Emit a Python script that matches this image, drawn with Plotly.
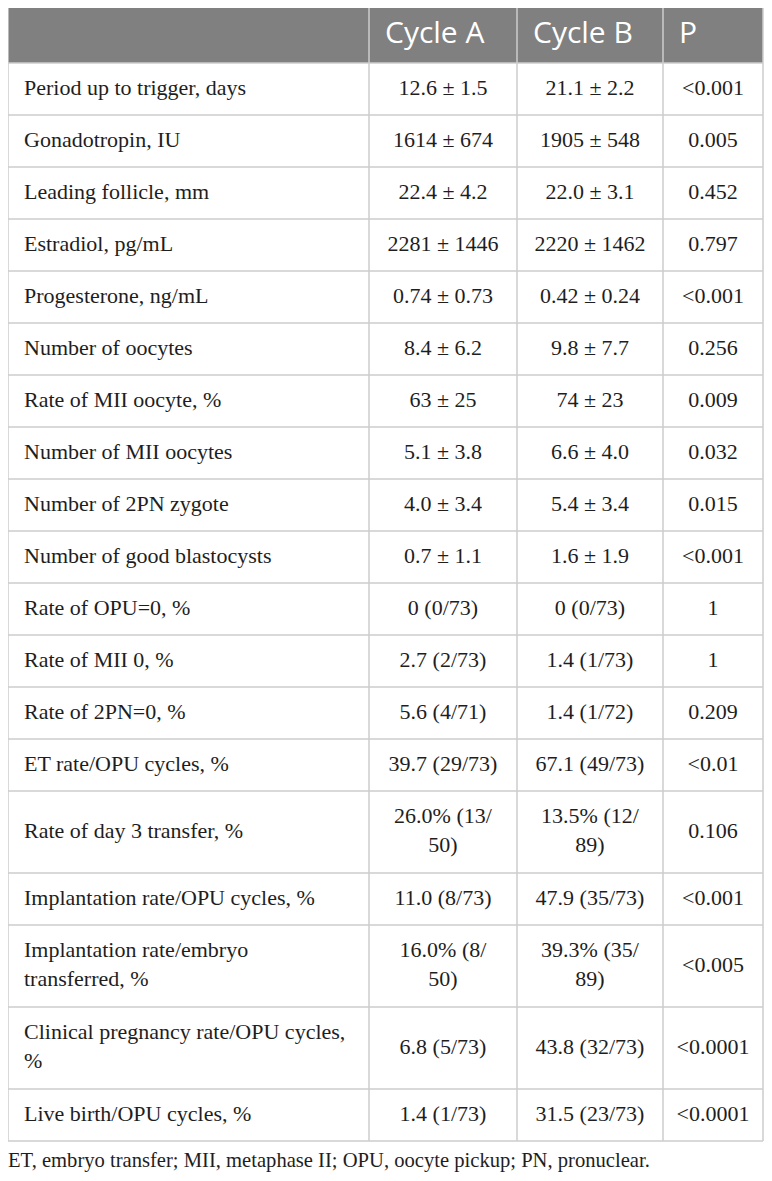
import plotly.graph_objects as go

# table content
variables = [
    "Period up to trigger, days",
    "Gonadotropin, IU",
    "Leading follicle, mm",
    "Estradiol, pg/mL",
    "Progesterone, ng/mL",
    "Number of oocytes",
    "Rate of MII oocyte, %",
    "Number of MII oocytes",
    "Number of 2PN zygote",
    "Number of good blastocysts",
    "Rate of OPU=0, %",
    "Rate of MII 0, %",
    "Rate of 2PN=0, %",
    "ET rate/OPU cycles, %",
    "Rate of day 3 transfer, %",
    "Implantation rate/OPU cycles, %",
    "Implantation rate/embryo<br>transferred, %",
    "Clinical pregnancy rate/OPU cycles,<br>%",
    "Live birth/OPU cycles, %",
]
cycle_a = [
    "12.6 ± 1.5", "1614 ± 674", "22.4 ± 4.2", "2281 ± 1446", "0.74 ± 0.73",
    "8.4 ± 6.2", "63 ± 25", "5.1 ± 3.8", "4.0 ± 3.4", "0.7 ± 1.1",
    "0 (0/73)", "2.7 (2/73)", "5.6 (4/71)", "39.7 (29/73)",
    "26.0% (13/<br>50)", "11.0 (8/73)", "16.0% (8/<br>50)", "6.8 (5/73)", "1.4 (1/73)",
]
cycle_b = [
    "21.1 ± 2.2", "1905 ± 548", "22.0 ± 3.1", "2220 ± 1462", "0.42 ± 0.24",
    "9.8 ± 7.7", "74 ± 23", "6.6 ± 4.0", "5.4 ± 3.4", "1.6 ± 1.9",
    "0 (0/73)", "1.4 (1/73)", "1.4 (1/72)", "67.1 (49/73)",
    "13.5% (12/<br>89)", "47.9 (35/73)", "39.3% (35/<br>89)", "43.8 (32/73)", "31.5 (23/73)",
]
p_values = [
    "<0.001", "0.005", "0.452", "0.797", "<0.001", "0.256", "0.009", "0.032",
    "0.015", "<0.001", "1", "1", "0.209", "<0.01", "0.106", "<0.001",
    "<0.005", "<0.0001", "<0.0001",
]
headers = ["", "Cycle A", "Cycle B", "P"]
footnote = "ET, embryo transfer; MII, metaphase II; OPU, oocyte pickup; PN, pronuclear."

# layout (page pixels); the page body has an 8px margin
W, H = 772, 1181
body = 8
col_edges = [8, 369, 517, 663, 763]
top, head_h = 7, 56
row_h, extra_line = 52, 30
pad = 16
line_col = "#cccccc"
text_col = "#1e1e1e"
serif = "Liberation Serif"

columns = [variables, cycle_a, cycle_b, p_values]

# row boundaries from number of text lines in each row
n_lines = [max(c[i].count("<br>") + 1 for c in columns) for i in range(len(variables))]
bounds = [top, top + head_h]
for n in n_lines:
    bounds.append(bounds[-1] + row_h + extra_line * (n - 1))
centers = [(bounds[i + 1] + bounds[i + 2]) / 2 for i in range(len(variables))]

fig = go.Figure()

# header background
fig.add_shape(type="rect", x0=col_edges[0], x1=col_edges[-1], y0=bounds[0], y1=bounds[1],
              fillcolor="#808080", line_width=0, layer="below")

# header labels
fig.add_trace(go.Scatter(
    x=[col_edges[i] + pad for i in range(1, 4)], y=[(bounds[0] + bounds[1]) / 2] * 3,
    text=headers[1:], mode="text", textposition="middle right",
    textfont=dict(family="Open Sans", size=30, color="white"),
    hoverinfo="skip", showlegend=False,
))

# first column, left aligned
fig.add_trace(go.Scatter(
    x=[col_edges[0] + pad] * len(variables), y=centers, text=variables,
    mode="text", textposition="middle right",
    textfont=dict(family=serif, size=22, color=text_col),
    hoverinfo="skip", showlegend=False,
))

# value columns, centred
for j, col in enumerate(columns[1:], start=1):
    fig.add_trace(go.Scatter(
        x=[(col_edges[j] + col_edges[j + 1]) / 2] * len(col), y=centers, text=col,
        mode="text", textposition="middle center",
        textfont=dict(family=serif, size=22, color=text_col),
        hoverinfo="skip", showlegend=False,
    ))

# grid lines
for yb in bounds:
    fig.add_shape(type="line", x0=col_edges[0], x1=col_edges[-1], y0=yb, y1=yb,
                  line=dict(color=line_col, width=1.5))
for xb in col_edges:
    fig.add_shape(type="line", x0=xb, x1=xb, y0=bounds[0], y1=bounds[-1],
                  line=dict(color=line_col, width=1.5))

# footnote
fig.add_trace(go.Scatter(
    x=[col_edges[0]], y=[bounds[-1] + 21], text=[footnote],
    mode="text", textposition="middle right",
    textfont=dict(family=serif, size=20.6, color=text_col),
    hoverinfo="skip", showlegend=False,
))

fig.update_xaxes(range=[body, W], visible=False, fixedrange=True)
fig.update_yaxes(range=[H, body], visible=False, fixedrange=True)
fig.update_layout(width=W - body, height=H - body, margin=dict(l=0, r=0, t=0, b=0),
                  paper_bgcolor="white", plot_bgcolor="white")

fig.write_html("out.html")
